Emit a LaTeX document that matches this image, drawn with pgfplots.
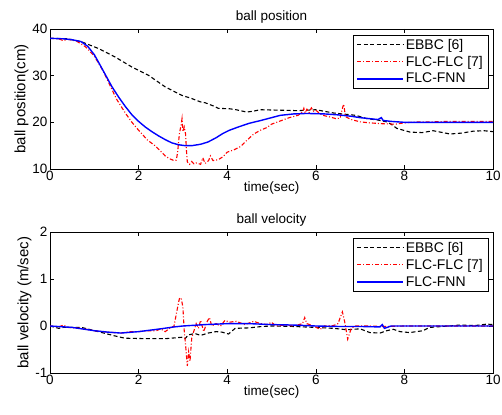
\documentclass[border=0pt]{standalone}
\usepackage{fontspec}
\setmainfont{Liberation Sans}
\usepackage{pgfplots}
\pgfplotsset{compat=1.18}

\pgfplotsset{
  mat/.style={
    scale only axis,
    width=443pt,
    xmin=0, xmax=10,
    xtick={0,2,4,6,8,10},
    tick align=inside,
    major tick length=4pt,
    tick style={black, line width=0.6pt},
    axis line style={line width=0.6pt},
    /pgf/number format/assume math mode=true,
    ticklabel style={font=\fontsize{13.5}{15}\selectfont},
    xticklabel style={yshift=1pt},
    yticklabel style={xshift=1pt},
    label style={font=\fontsize{13.5}{15}\selectfont},
    title style={font=\fontsize{13.5}{15}\selectfont, yshift=-4pt},
    xlabel={time(sec)},
    xlabel style={yshift=6pt},
    ylabel style={font=\fontsize{15}{17}\selectfont, yshift=-3pt},
    legend cell align=left,
    legend style={at={(0.989,0.96)}, anchor=north east, draw=black, line width=0.6pt,
      fill=white, font=\fontsize{14}{16}\selectfont, inner xsep=3pt, inner ysep=2pt,
      row sep=1.5pt},
    legend image code/.code={\draw[#1] (0pt,0pt) -- (46pt,0pt);},
  },
  ebbc/.style={color=black, line width=1.1pt, dash pattern=on 4pt off 2.5pt},
  flc/.style={color=red, line width=1.1pt, dash pattern=on 4pt off 2pt on 1pt off 2pt},
  fnn/.style={color=blue, line width=1.4pt},
}

\begin{document}
\begin{tikzpicture}
\path[use as bounding box] (0pt,0pt) rectangle (502pt,414pt);

\begin{axis}[mat, at={(50pt,245pt)}, anchor=south west, height=140pt,
  ymin=10, ymax=40, ytick={10,20,30,40},
  title={ball position}, ylabel={ball position(cm)}]
\addplot[ebbc] coordinates {
(0,38.0) (0.4,37.9) (0.7,37.3) (1.1,35.8) (1.47,34.0) (1.84,31.9) (2.22,30.1)
(2.6,27.6) (2.97,25.8) (3.2,25.1) (3.39,24.4) (3.5,24.2) (3.69,23.5) (3.8,23.0)
(4.06,22.9) (4.2,22.7) (4.44,22.2) (4.6,22.4) (4.74,22.7) (5.2,22.6) (5.6,22.5)
(6.0,22.7) (6.4,22.0) (6.7,21.7) (6.9,21.5) (7.15,20.8) (7.4,20.5) (7.6,20.1)
(7.7,19.6) (7.83,18.7) (8.13,17.9) (8.4,17.8) (8.65,18.2) (9.03,17.5) (9.3,17.7)
(9.55,18.1) (9.8,18.2) (10,18.0)
};
\addlegendentry{EBBC [6]}
\addplot[flc] coordinates {
(0,38.0) (0.2,37.9) (0.3,37.5) (0.4,37.8) (0.6,37.4) (0.8,36.2) (1.0,34.2)
(1.2,31.0) (1.35,28.0) (1.5,25.0) (1.7,22.0) (1.85,20.0) (2.0,18.3) (2.2,16.2)
(2.37,15.0) (2.5,13.8) (2.6,12.8) (2.7,12.2) (2.8,11.8) (2.85,11.9) (2.88,13.5)
(2.92,17.5) (2.96,19.5) (2.98,20.8) (3.0,18.0) (3.03,19.0) (3.06,17.5) (3.08,14.0)
(3.1,11.5) (3.15,11.0) (3.2,11.6) (3.25,11.1) (3.3,11.3) (3.4,11.0) (3.45,12.4)
(3.5,11.2) (3.58,11.8) (3.62,12.8) (3.68,11.8) (3.8,12.0) (3.9,12.6) (4.0,13.6)
(4.15,14.1) (4.3,14.8) (4.45,16.2) (4.6,17.5) (4.75,18.3) (4.9,18.9) (5.0,19.6)
(5.2,20.3) (5.4,21.0) (5.6,21.5) (5.7,22.2) (5.73,23.0) (5.76,22.0) (5.8,22.8)
(5.85,22.1) (5.9,23.1) (5.95,22.4) (6.0,22.6) (6.1,21.8) (6.2,21.4) (6.3,21.2)
(6.45,20.8) (6.55,20.9) (6.6,23.0) (6.63,23.9) (6.67,21.2) (6.8,20.6) (7.0,20.1)
(7.2,19.9) (7.5,19.7) (7.8,19.6) (8.0,19.9) (8.3,20.1) (8.6,20.1) (9.0,20.2)
(9.5,20.2) (10,20.2)
};
\addlegendentry{FLC-FLC [7]}
\addplot[fnn] coordinates {
(0,38.0) (0.3,37.9) (0.5,37.7) (0.7,37.3) (0.85,36.3) (1.0,34.5) (1.1,32.8)
(1.25,30.2) (1.4,27.6) (1.55,25.4) (1.7,23.4) (1.85,21.6) (2.0,20.2) (2.15,19.0)
(2.3,18.0) (2.45,17.1) (2.6,16.3) (2.75,15.6) (2.9,15.2) (3.05,15.0) (3.2,15.0)
(3.4,15.3) (3.57,15.8) (3.75,16.7) (3.9,17.6) (4.05,18.3) (4.25,19.0) (4.5,19.8)
(4.76,20.4) (5.0,21.0) (5.2,21.5) (5.5,21.8) (5.8,21.9) (6.2,21.8) (6.5,21.6)
(6.8,21.3) (7.0,21.0) (7.2,20.8) (7.4,20.6) (7.48,21.0) (7.52,20.4) (7.7,20.2)
(8.0,20.0) (9.0,20.0) (10,20.0)
};
\addlegendentry{FLC-FNN}
\end{axis}

\begin{axis}[mat, at={(50pt,41pt)}, anchor=south west, height=141pt,
  ymin=-1, ymax=2, ytick={-1,0,1,2},
  title={ball velocity}, ylabel={ball velocity (m/sec)}]
\addplot[ebbc] coordinates {
(0,0) (0.2,-0.05) (0.3,-0.03) (0.5,-0.03) (0.71,-0.03) (1.09,-0.12) (1.46,-0.21)
(1.69,-0.26) (2.21,-0.27) (2.6,-0.27) (2.97,-0.24) (3.05,-0.27) (3.12,-0.19)
(3.27,-0.16) (3.4,-0.2) (3.57,-0.15) (3.75,-0.12) (3.88,-0.13) (4.03,-0.17)
(4.18,-0.05) (4.5,-0.04) (4.78,-0.01) (5.0,0.0) (5.5,-0.01) (6.0,-0.03)
(6.4,-0.05) (6.7,-0.08) (7.0,-0.06) (7.22,-0.14) (7.45,-0.15) (7.6,-0.1)
(7.75,-0.07) (7.9,-0.12) (8.12,-0.14) (8.42,-0.1) (8.57,-0.03) (9.0,0.0)
(9.25,0.02) (9.6,0.01) (9.86,0.04) (10,0.03)
};
\addlegendentry{EBBC [6]}
\addplot[flc] coordinates {
(0,0) (0.2,-0.02) (0.3,0.02) (0.4,-0.03) (0.7,-0.05) (1.0,-0.1) (1.3,-0.13)
(1.6,-0.15) (1.8,-0.12) (2.0,-0.12) (2.2,-0.1) (2.4,-0.1) (2.5,-0.06) (2.6,-0.12)
(2.7,-0.05) (2.8,0.0) (2.86,0.3) (2.92,0.58) (2.96,0.6) (3.0,0.4) (3.03,-0.1)
(3.06,-0.4) (3.1,-0.85) (3.13,-0.55) (3.16,-0.75) (3.2,-0.25) (3.3,0.05)
(3.35,-0.05) (3.4,0.12) (3.47,-0.12) (3.55,0.1) (3.6,0.18) (3.65,0.0) (3.75,0.05)
(3.85,0.0) (3.95,0.12) (4.05,0.08) (4.2,0.1) (4.4,0.03) (4.6,0.1) (4.75,0.05)
(4.9,0.03) (5.0,0.08) (5.1,0.0) (5.3,0.02) (5.5,0.0) (5.7,0.05) (5.75,0.18)
(5.8,0.05) (5.95,0.0) (6.1,-0.07) (6.2,0.0) (6.4,0.01) (6.5,0.05) (6.6,0.3)
(6.65,0.1) (6.72,-0.28) (6.8,-0.05) (6.9,0.0) (7.2,0.0) (7.5,-0.01) (8.0,0.0)
(9.0,0.0) (10,0.0)
};
\addlegendentry{FLC-FLC [7]}
\addplot[fnn] coordinates {
(0,0) (0.5,-0.03) (1.0,-0.1) (1.3,-0.13) (1.6,-0.15) (2.0,-0.12) (2.5,-0.06)
(2.8,-0.02) (3.0,0.0) (3.5,0.03) (4.0,0.05) (4.5,0.05) (5.0,0.03) (5.5,0.02)
(6.0,0.0) (6.5,-0.01) (7.0,-0.01) (7.45,-0.02) (7.5,0.03) (7.55,-0.05) (7.7,0.0)
(8.0,0.0) (10,0.0)
};
\addlegendentry{FLC-FNN}
\end{axis}
\end{tikzpicture}
\end{document}
